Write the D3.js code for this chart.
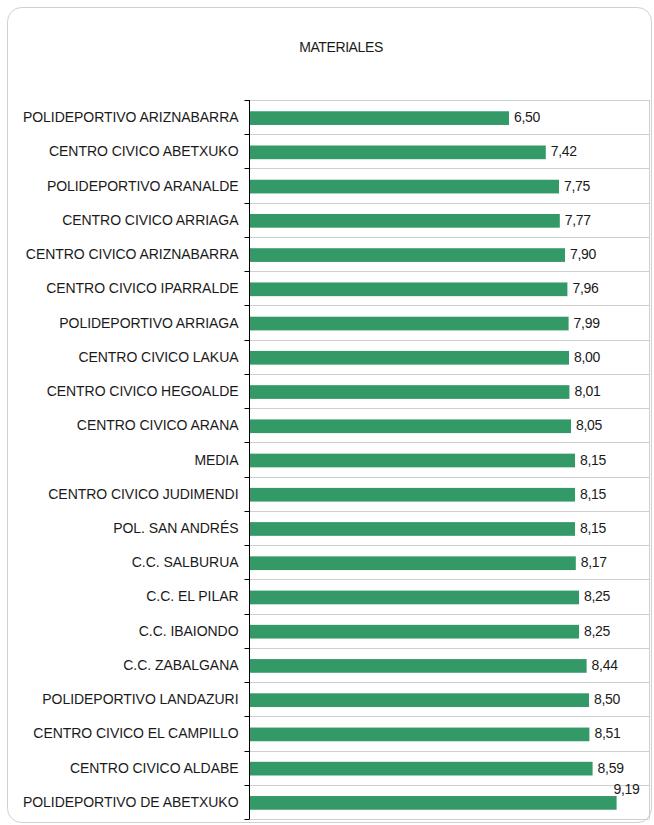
<!DOCTYPE html>
<html>
<head>
<meta charset="utf-8">
<script src="https://cdn.jsdelivr.net/npm/d3@7"></script>
<style>
  body { margin: 0; background: #fff; }
  text { font-family: "Liberation Sans", Arial, sans-serif; fill: #1a1a1a; }
</style>
</head>
<body>
<svg width="654" height="825"></svg>
<script>
// data, top to bottom
const centros = [
  'POLIDEPORTIVO ARIZNABARRA',
  'CENTRO CIVICO ABETXUKO',
  'POLIDEPORTIVO ARANALDE',
  'CENTRO CIVICO ARRIAGA',
  'CENTRO CIVICO ARIZNABARRA',
  'CENTRO CIVICO IPARRALDE',
  'POLIDEPORTIVO ARRIAGA',
  'CENTRO CIVICO LAKUA',
  'CENTRO CIVICO HEGOALDE',
  'CENTRO CIVICO ARANA',
  'MEDIA',
  'CENTRO CIVICO JUDIMENDI',
  'POL. SAN ANDRÉS',
  'C.C. SALBURUA',
  'C.C. EL PILAR',
  'C.C. IBAIONDO',
  'C.C. ZABALGANA',
  'POLIDEPORTIVO LANDAZURI',
  'CENTRO CIVICO EL CAMPILLO',
  'CENTRO CIVICO ALDABE',
  'POLIDEPORTIVO DE ABETXUKO',
];
const notas = [6.50, 7.42, 7.75, 7.77, 7.90, 7.96, 7.99, 8.00, 8.01, 8.05,
  8.15, 8.15, 8.15, 8.17, 8.25, 8.25, 8.44, 8.50, 8.51, 8.59, 9.19];
const titulo = 'MATERIALES';

const data = centros.map((c, i) => ({ name: c, value: notas[i] }));

const svg = d3.select('svg');
const plotLeft = 249, plotRight = 649, plotTop = 100, plotBottom = 819;

// outer frame
svg.append('rect')
  .attr('x', 7.5).attr('y', 7.5)
  .attr('width', 644).attr('height', 815)
  .attr('rx', 14)
  .attr('fill', '#fff')
  .attr('stroke', '#d0d0d0');

svg.append('text')
  .attr('x', 341).attr('y', 52)
  .attr('text-anchor', 'middle')
  .style('font-size', '14px')
  .style('letter-spacing', '-0.4px')
  .text(titulo);

const x = d3.scaleLinear().domain([0, 10]).range([plotLeft, plotRight]);
const y = d3.scaleBand().domain(centros).range([plotTop, plotBottom]).paddingInner(0.6).paddingOuter(0.3);

// separators between categories
const edges = d3.range(centros.length + 1).map(i => plotTop + i * (plotBottom - plotTop) / centros.length);
svg.append('g')
  .selectAll('line')
  .data(edges)
  .enter().append('line')
  .attr('x1', plotLeft).attr('x2', plotRight)
  .attr('y1', d => Math.round(d) + 0.5).attr('y2', d => Math.round(d) + 0.5)
  .attr('stroke', '#cfcfcf');

svg.append('line')
  .attr('x1', plotRight + 0.5).attr('x2', plotRight + 0.5)
  .attr('y1', plotTop).attr('y2', plotBottom)
  .attr('stroke', '#cfcfcf');

svg.append('g')
  .selectAll('rect')
  .data(data)
  .enter().append('rect')
  .attr('x', x(0))
  .attr('y', d => y(d.name) + 1)
  .attr('width', d => x(d.value) - x(0))
  .attr('height', y.bandwidth())
  .attr('fill', '#339966');

// value labels, the one that would not fit goes above its bar
const fmt = v => v.toFixed(2).replace('.', ',');
const overflows = d => x(d.value) + 5 + 30 > plotRight;
svg.append('g')
  .selectAll('text')
  .data(data)
  .enter().append('text')
  .attr('x', d => overflows(d) ? x(d.value) + 23 : x(d.value) + 5)
  .attr('y', d => overflows(d) ? y(d.name) - 1 : y(d.name) + y.bandwidth() / 2 + 5)
  .attr('text-anchor', d => overflows(d) ? 'end' : 'start')
  .style('font-size', '14px')
  .style('letter-spacing', '-0.3px')
  .text(d => fmt(d.value));

// category axis
const yAxis = svg.append('g')
  .attr('transform', `translate(${plotLeft + 0.5},0)`);
yAxis.append('line')
  .attr('y1', plotTop).attr('y2', plotBottom)
  .attr('stroke', '#000');
yAxis.selectAll('.tick')
  .data(edges)
  .enter().append('line')
  .attr('x1', -5).attr('x2', 0)
  .attr('y1', d => Math.round(d) + 0.5).attr('y2', d => Math.round(d) + 0.5)
  .attr('stroke', '#000');
yAxis.selectAll('text')
  .data(centros)
  .enter().append('text')
  .attr('x', -11)
  .attr('y', d => y(d) + y.bandwidth() / 2 + 5)
  .attr('text-anchor', 'end')
  .style('font-size', '14px')
  .style('letter-spacing', '-0.05px')
  .text(d => d);
</script>
</body>
</html>
